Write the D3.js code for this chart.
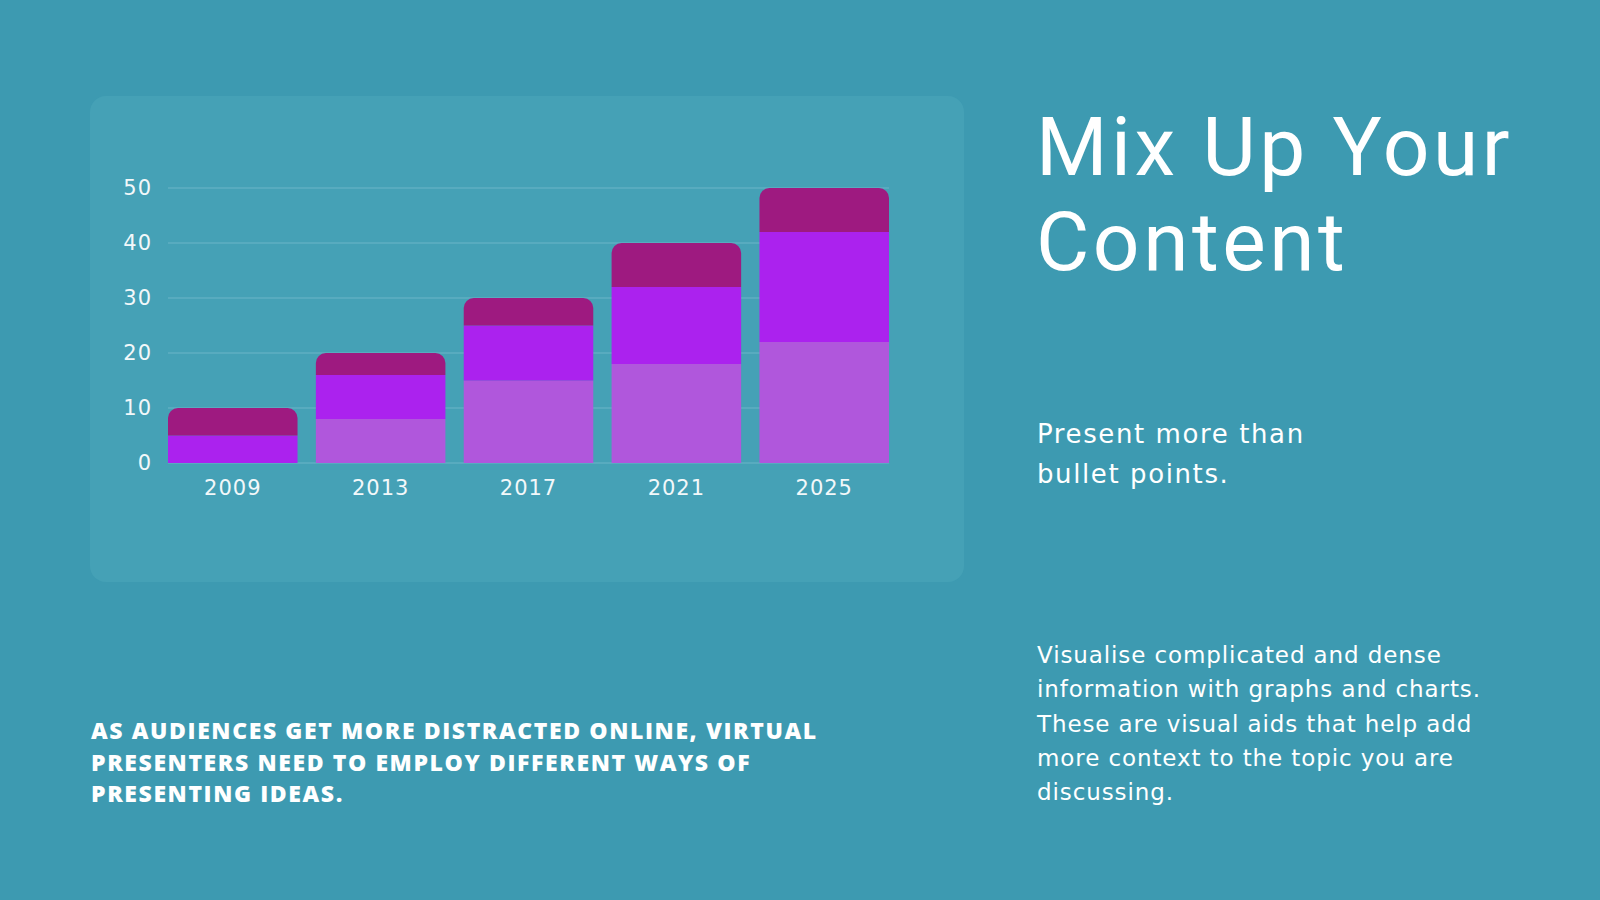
<!DOCTYPE html>
<html lang="en">
<head>
  <meta charset="UTF-8">
  <title>Mix Up Your Content</title>
  <style>
    html, body {
      margin: 0;
      padding: 0;
      width: 100%;
      height: 100%;
      background: #3d9ab1;
      overflow: hidden;
    }
    svg {
      display: block;
    }
    .axis text {
      font-family: 'DejaVu Sans', sans-serif;
      font-size: 21px;
      letter-spacing: 1px;
      fill: #f2f8fa;
    }
  </style>
</head>
<body>
  <svg id="chart" width="1600" height="900"></svg>

  <script src="https://d3js.org/d3.v7.min.js"></script>
  <script>
    // data
    const years = ["2009", "2013", "2017", "2021", "2025"];
    const seriesNames = ["base", "middle", "top"];
    const baseValues = [0, 8, 15, 18, 22];
    const middleValues = [5, 8, 10, 14, 20];
    const topValues = [5, 4, 5, 8, 8];
    const yTicks = [0, 10, 20, 30, 40, 50];

    const colors = {
      bg: "#3d9ab1",
      panel: "#45a1b6",
      grid: "#6cb6c8",
      base: "#b057dc",
      middle: "#ab22ee",
      top: "#9e1a80",
      text: "#ffffff"
    };

    const svg = d3.select("#chart");

    // background panel behind the chart
    svg.append("rect")
      .attr("x", 90).attr("y", 96)
      .attr("width", 874).attr("height", 486)
      .attr("rx", 16)
      .attr("fill", colors.panel);

    const x = d3.scaleBand()
      .domain(years)
      .range([168, 889])
      .paddingInner(0.124)
      .paddingOuter(0);

    const y = d3.scaleLinear()
      .domain([0, 50])
      .range([463, 188]);

    const g = svg.append("g");

    // gridlines
    g.selectAll("line.grid")
      .data(yTicks)
      .enter()
      .append("line")
      .classed("grid", true)
      .attr("x1", 168).attr("x2", 889)
      .attr("y1", d => y(d)).attr("y2", d => y(d))
      .attr("stroke", colors.grid)
      .attr("stroke-width", 1.2);

    // stack the three series
    const table = years.map((yr, i) => ({
      year: yr, base: baseValues[i], middle: middleValues[i], top: topValues[i]
    }));
    const stacked = d3.stack().keys(seriesNames)(table);

    // top-rounded rect for the last segment
    function roundTop(x0, y0, w, h, r) {
      const p = d3.path();
      p.moveTo(x0, y0 + h);
      p.lineTo(x0, y0 + r);
      p.arcTo(x0, y0, x0 + r, y0, r);
      p.lineTo(x0 + w - r, y0);
      p.arcTo(x0 + w, y0, x0 + w, y0 + r, r);
      p.lineTo(x0 + w, y0 + h);
      p.closePath();
      return p.toString();
    }

    stacked.forEach(layer => {
      const key = layer.key;
      const layerG = g.append("g").attr("fill", colors[key]);
      layerG.selectAll("path")
        .data(layer.filter(d => d[1] > d[0]))
        .enter()
        .append("path")
        .attr("d", d => {
          const x0 = x(d.data.year);
          const y0 = y(d[1]);
          const h = y(d[0]) - y(d[1]);
          return key === "top"
            ? roundTop(x0, y0, x.bandwidth(), h, 10)
            : `M${x0},${y0}h${x.bandwidth()}v${h}h${-x.bandwidth()}Z`;
        });
    });

    // axes (no lines, only labels)
    const yAxis = g.append("g")
      .attr("class", "axis")
      .attr("transform", "translate(152,0)")
      .call(d3.axisLeft(y).tickValues(yTicks).tickSize(0).tickPadding(0));
    yAxis.select(".domain").remove();

    const xAxis = g.append("g")
      .attr("class", "axis")
      .attr("transform", "translate(0,474)")
      .call(d3.axisBottom(x).tickSize(0).tickPadding(0));
    xAxis.select(".domain").remove();
    xAxis.selectAll("text").attr("dy", "1em");

    // right-hand title and text
    const title = svg.append("text")
      .attr("font-family", "Roboto, sans-serif")
      .attr("font-size", 82)
      .attr("letter-spacing", 3.5)
      .attr("fill", colors.text);
    title.append("tspan").attr("x", 1036).attr("y", 175).text("Mix Up Your");
    title.append("tspan").attr("x", 1036).attr("y", 270).text("Content");

    const sub = svg.append("text")
      .attr("font-family", "'DejaVu Sans', sans-serif")
      .attr("font-size", 26)
      .attr("letter-spacing", 1.6)
      .attr("fill", colors.text);
    sub.append("tspan").attr("x", 1037).attr("y", 443).text("Present more than");
    sub.append("tspan").attr("x", 1037).attr("y", 483).text("bullet points.");

    const bodyLines = [
      "Visualise complicated and dense",
      "information with graphs and charts.",
      "These are visual aids that help add",
      "more context to the topic you are",
      "discussing."
    ];
    svg.append("text")
      .attr("font-family", "'DejaVu Sans', sans-serif")
      .attr("font-size", 23)
      .attr("letter-spacing", 0.9)
      .attr("fill", colors.text)
      .selectAll("tspan")
      .data(bodyLines)
      .enter()
      .append("tspan")
      .attr("x", 1037)
      .attr("y", (d, i) => 663 + i * 34.3)
      .text(d => d);

    const noteLines = [
      "AS AUDIENCES GET MORE DISTRACTED ONLINE, VIRTUAL",
      "PRESENTERS NEED TO EMPLOY DIFFERENT WAYS OF",
      "PRESENTING IDEAS."
    ];
    svg.append("text")
      .attr("font-family", "'Open Sans', sans-serif")
      .attr("font-weight", 800)
      .attr("font-size", 23)
      .attr("letter-spacing", 1.6)
      .attr("fill", colors.text)
      .selectAll("tspan")
      .data(noteLines)
      .enter()
      .append("tspan")
      .attr("x", 91)
      .attr("y", (d, i) => 739 + i * 31.6)
      .text(d => d);
  </script>
</body>
</html>
